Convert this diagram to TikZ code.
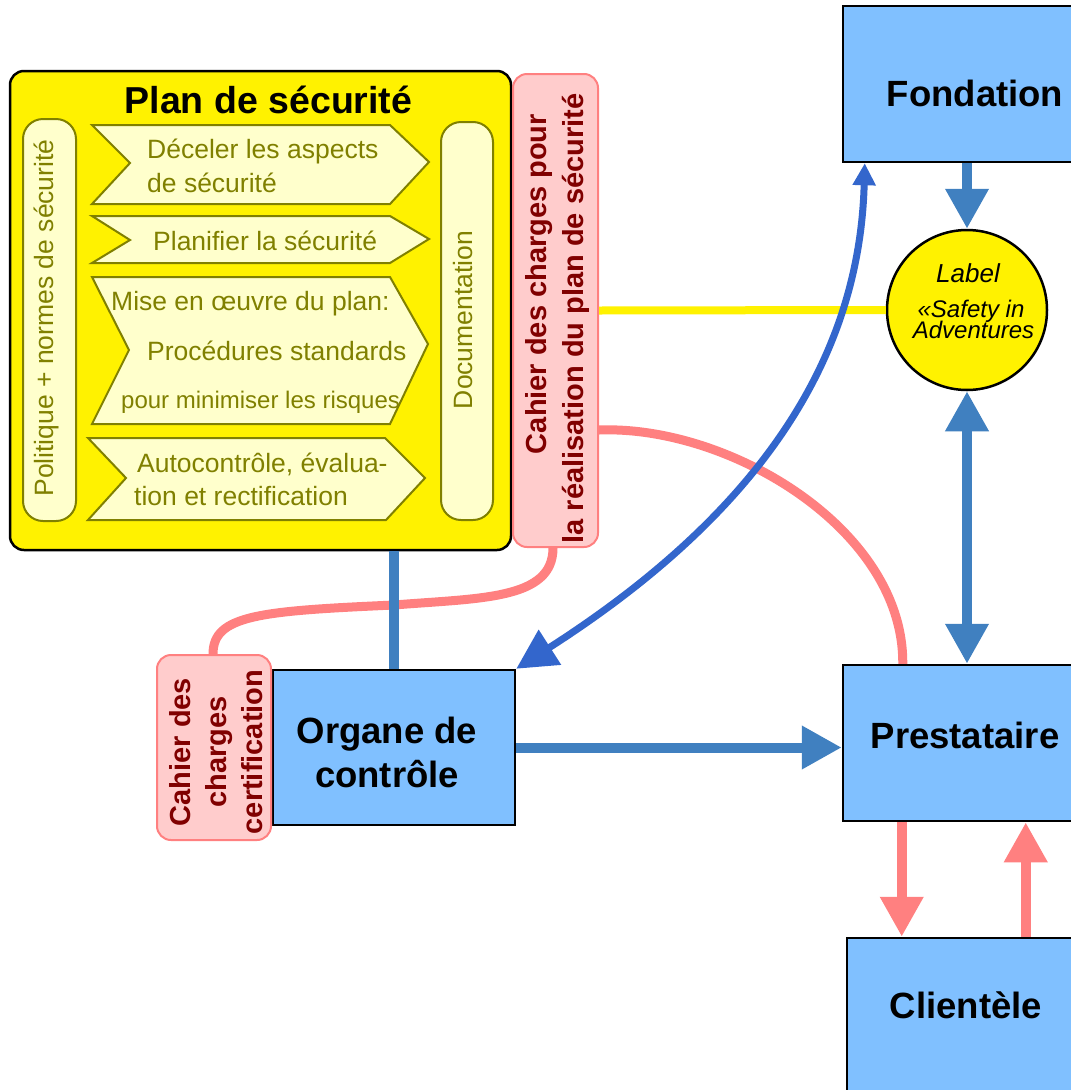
\documentclass[tikz,border=0pt]{standalone}
\usepackage{fontspec}
\setmainfont{Liberation Sans}
\usetikzlibrary{arrows.meta}
\definecolor{boxblue}{HTML}{80C0FF}
\definecolor{arrblue}{HTML}{4080C0}
\definecolor{curveblue}{HTML}{3366CC}
\definecolor{olivetxt}{HTML}{808000}
\definecolor{paleyel}{HTML}{FFFFCC}
\definecolor{pinkfill}{HTML}{FFCCCC}
\definecolor{pinkline}{HTML}{FF8080}
\definecolor{darkred}{HTML}{800000}
\tikzset{
  blbox/.style={draw=black, line width=2.5pt, fill=boxblue, inner sep=0},
  bigtxt/.style={font=\fontsize{36.5}{40}\selectfont\bfseries, inner sep=0, anchor=base},
  chev/.style={draw=olivetxt, line width=2pt, fill=paleyel, line join=miter},
  chevtxt/.style={font=\fontsize{26.5}{30}\selectfont, text=olivetxt, anchor=base west, inner sep=0},
  sidebox/.style={draw=olivetxt, line width=2pt, fill=paleyel, rounded corners=20pt, inner sep=0},
  pinkbox/.style={draw=pinkline, line width=2pt, fill=pinkfill, rounded corners=14pt, inner sep=0},
  pinktxt/.style={font=\fontsize{29}{36}\selectfont\bfseries, text=darkred, rotate=90, inner sep=0},
  labtxt/.style={font=\fontsize{24}{26}\selectfont\itshape, anchor=base, inner sep=0},
  fatarrow/.style={line width=10pt, -{Triangle[width=41pt,length=40pt]}},
  fatdouble/.style={line width=10pt, {Triangle[width=41pt,length=40pt]}-{Triangle[width=41pt,length=40pt]}},
  pinkconn/.style={draw=pinkline, line width=9pt},
}
\begin{document}
\begin{tikzpicture}[x=1pt,y=-1pt]
\useasboundingbox (0,0) rectangle (1071,1090);
\clip (0,0) rectangle (1071,1090);
\fill[white] (0,0) rectangle (1071,1090);

% Plan de sécurité
\node[draw=black, line width=2.5pt, fill=yellow, rounded corners=14pt,
      minimum width=501pt, minimum height=479pt, inner sep=0] (plan) at (260.5,310.5) {};
\node[bigtxt, font=\fontsize{37.5}{40}\selectfont\bfseries] (plantitle) at (268.5,113) {Plan de sécurité};

\node[sidebox, minimum width=53pt, minimum height=402pt] (pol) at (49.5,320) {};
\node[font=\fontsize{26.5}{30}\selectfont, text=olivetxt, rotate=90, inner sep=0] (poltxt) at (46.5,318) {Politique + normes de sécurité};
\node[sidebox, minimum width=52pt, minimum height=398pt] (doc) at (467,321) {};
\node[font=\fontsize{26.5}{30}\selectfont, text=olivetxt, rotate=90, inner sep=0] (doctxt) at (463,320) {Documentation};

\draw[chev] (92,125) -- (390,125) -- (429,162) -- (390,204) -- (92,204) -- (130,163) -- cycle;
\draw[chev] (92,216) -- (390,216) -- (429,239) -- (390,263) -- (92,263) -- (130,240) -- cycle;
\draw[chev] (92,277) -- (390,277) -- (428,344) -- (390,424) -- (92,424) -- (129,350) -- cycle;
\draw[chev] (88,438) -- (385,438) -- (425,478) -- (386,520) -- (88,520) -- (126,478) -- cycle;

\node[chevtxt] (c1a) at (147,158) {Déceler les aspects};
\node[chevtxt] (c1b) at (147,192) {de sécurité};
\node[chevtxt] (c2) at (153,250) {Planifier la sécurité};
\node[chevtxt] (c3a) at (111,310) {Mise en œuvre du plan:};
\node[chevtxt] (c3b) at (147,360) {Procédures standards};
\node[chevtxt, font=\fontsize{24}{26}\selectfont] (c3c) at (121,408) {pour minimiser les risques};
\node[chevtxt] (c4a) at (137,472) {Autocontrôle, évalua-};
\node[chevtxt] (c4b) at (134,505) {tion et rectification};

% Cahier des charges (big)
\node[pinkbox, minimum width=85pt, minimum height=473pt] (cahier) at (555.5,310.5) {};
\node[pinktxt] (cah1) at (539.5,284) {Cahier des charges pour};
\node[pinktxt] (cah2) at (575.5,318.5) {la réalisation du plan de sécurité};

% Fondation, label
\node[blbox, minimum width=264pt, minimum height=156pt] (fond) at (975,84) {};
\node[bigtxt] (fondtxt) at (975,106) {Fondation};
\node[circle, draw=black, line width=2.5pt, fill=yellow, minimum size=160pt, inner sep=0] (label) at (967,310) {};
\node[labtxt, font=\fontsize{26}{28}\selectfont\itshape] (lab1) at (968,282) {Label};
\node[labtxt] (lab2) at (971,317) {«Safety in};
\node[labtxt] (lab3) at (973.5,338) {Adventures};

% Organe de contrôle
\node[blbox, minimum width=242pt, minimum height=155pt] (org) at (394,747.5) {};
\node[bigtxt] (org1) at (387,743) {Organe de};
\node[bigtxt] (org2) at (387,787) {contrôle};
\node[pinkbox, minimum width=114pt, minimum height=185pt] (cert) at (214,747.5) {};
\node[pinktxt, align=center] (certtxt) at (216.5,752) {Cahier des\\charges\\certification};

% Prestataire, Clientele
\node[blbox, minimum width=244pt, minimum height=156pt] (prest) at (965,743) {};
\node[bigtxt] (presttxt) at (965,748) {Prestataire};
\node[blbox, minimum width=236pt, minimum height=162pt] (client) at (965,1019) {};
\node[bigtxt] (clienttxt) at (966,1018) {Clientèle};

% connectors
\draw[pinkconn] ([yshift=-119.5pt]cahier.east) .. controls (730,425) and (904,530) .. ([xshift=61pt]prest.north west);
\draw[pinkconn] ([xshift=-2.5pt]cahier.south) .. controls (553,600) and (480,598) .. (394,605)
   .. controls (260,611) and (213,615) .. ([xshift=-1pt]cert.north);
\draw[yellow, line width=8pt] (cahier.east) -- (label.west);
\draw[curveblue, line width=7pt, {Triangle[width=40pt,length=40pt]}-{Triangle[width=22pt,length=22pt]}]
   (org.north east) .. controls (780,500) and (860,340) .. ([xshift=23pt]fond.south west);
\draw[arrblue, line width=10pt] (org.north |- plan.south) -- (org.north);
\draw[arrblue, fatarrow] (label.north |- fond.south) -- (label.north);
\draw[arrblue, fatdouble] (label.south) -- (label.south |- prest.north);
\draw[arrblue, fatarrow] (org.east) -- (prest.west |- org.east);
\draw[pinkline, fatarrow] ([xshift=60pt]prest.south west) -- ([xshift=56pt]client.north west);
\draw[pinkline, fatarrow] ([xshift=180pt]client.north west) -- ([xshift=184pt]prest.south west);
\end{tikzpicture}
\end{document}
